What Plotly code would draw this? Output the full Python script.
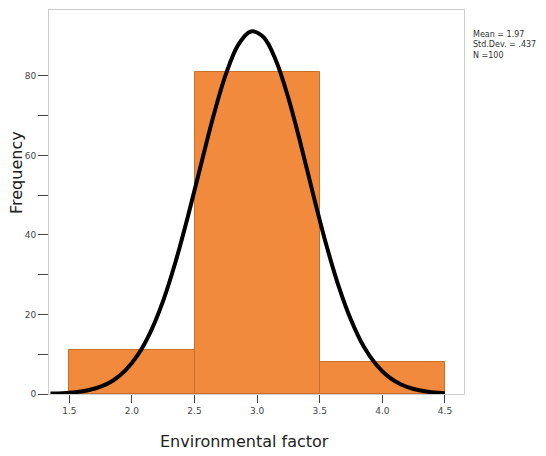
import plotly.graph_objects as go

# Histogram data
bin_centers = [2.0, 3.0, 4.0]
frequencies = [11, 81, 8]

# Normal curve
curve_x = [1.35, 1.45, 1.55, 1.65, 1.75, 1.85, 1.95, 2.05, 2.15, 2.25, 2.35, 2.45,
           2.55, 2.65, 2.75, 2.85, 2.95, 3.05, 3.15, 3.25, 3.35, 3.45, 3.55, 3.65,
           3.75, 3.85, 3.95, 4.05, 4.15, 4.25, 4.35, 4.45, 4.5]
curve_y = [0.1, 0.2, 0.46, 0.95, 1.85, 3.4, 6.0, 9.95, 15.7, 23.5, 33.4, 45.0,
           57.5, 69.8, 80.4, 87.9, 91.2, 89.8, 83.9, 74.4, 62.6, 49.9, 37.8, 27.2,
           18.6, 12.0, 7.4, 4.3, 2.4, 1.25, 0.62, 0.29, 0.2]

x_ticks = [1.5, 2.0, 2.5, 3.0, 3.5, 4.0, 4.5]
x_tick_labels = ["1.5", "2.0", "2.5", "3.0", "3.5", "4.0", "4.5"]
y_ticks = [0, 10, 20, 30, 40, 50, 60, 70, 80]
y_tick_labels = ["0", "", "20", "", "40", "", "60", "", "80"]

stats_lines = ["Mean = 1.97", "Std.Dev. = .437", "N =100"]

FONT = "DejaVu Sans"

fig = go.Figure()
fig.add_trace(go.Bar(
    x=bin_centers, y=frequencies, width=1.0,
    marker=dict(color="#F28A3E", line=dict(color="#C96F2E", width=1)),
    showlegend=False, hoverinfo="skip",
))
fig.add_trace(go.Scatter(
    x=curve_x, y=curve_y, mode="lines",
    line=dict(color="black", width=4, shape="spline", smoothing=1.0),
    showlegend=False, hoverinfo="skip",
))

# page body has an 8px margin; plot area target: x 49..464, y 9.5..394 in window px
fig.update_layout(
    width=538, height=448,
    margin=dict(l=41, r=82, t=2, b=62),
    paper_bgcolor="white", plot_bgcolor="white",
    bargap=0,
    font=dict(family=FONT, color="#333333"),
    xaxis=dict(
        range=[1.338, 4.652], showgrid=False, zeroline=False,
        tickvals=x_ticks, ticktext=x_tick_labels,
        ticks="outside", ticklen=8, tickwidth=1, tickcolor="#444444",
        tickfont=dict(size=9, color="#444444", family=FONT),
        showline=True, linecolor="#cfcfcf", linewidth=1, mirror=True,
    ),
    yaxis=dict(
        range=[0, 96.6], showgrid=False, zeroline=False,
        tickvals=y_ticks, ticktext=y_tick_labels,
        ticks="outside", ticklen=10, tickwidth=1, tickcolor="#444444",
        tickfont=dict(size=9, color="#444444", family=FONT),
        showline=True, linecolor="#cfcfcf", linewidth=1, mirror=True,
    ),
    annotations=[
        dict(text="<br>".join(stats_lines), xref="paper", yref="paper",
             x=1.017, y=(394 - 28) / 384, xanchor="left", yanchor="top",
             align="left", showarrow=False,
             font=dict(size=8, color="#333333", family=FONT)),
        dict(text="Environmental factor", xref="paper", yref="paper",
             x=(244 - 49) / 415, y=(394 - 441) / 384,
             xanchor="center", yanchor="middle", showarrow=False,
             font=dict(size=16, color="#222222", family=FONT)),
        dict(text="Frequency", xref="paper", yref="paper",
             x=(16 - 49) / 415, y=(394 - 173) / 384, textangle=-90,
             xanchor="center", yanchor="middle", showarrow=False,
             font=dict(size=16, color="#222222", family=FONT)),
    ],
)

fig.write_html("out.html")
